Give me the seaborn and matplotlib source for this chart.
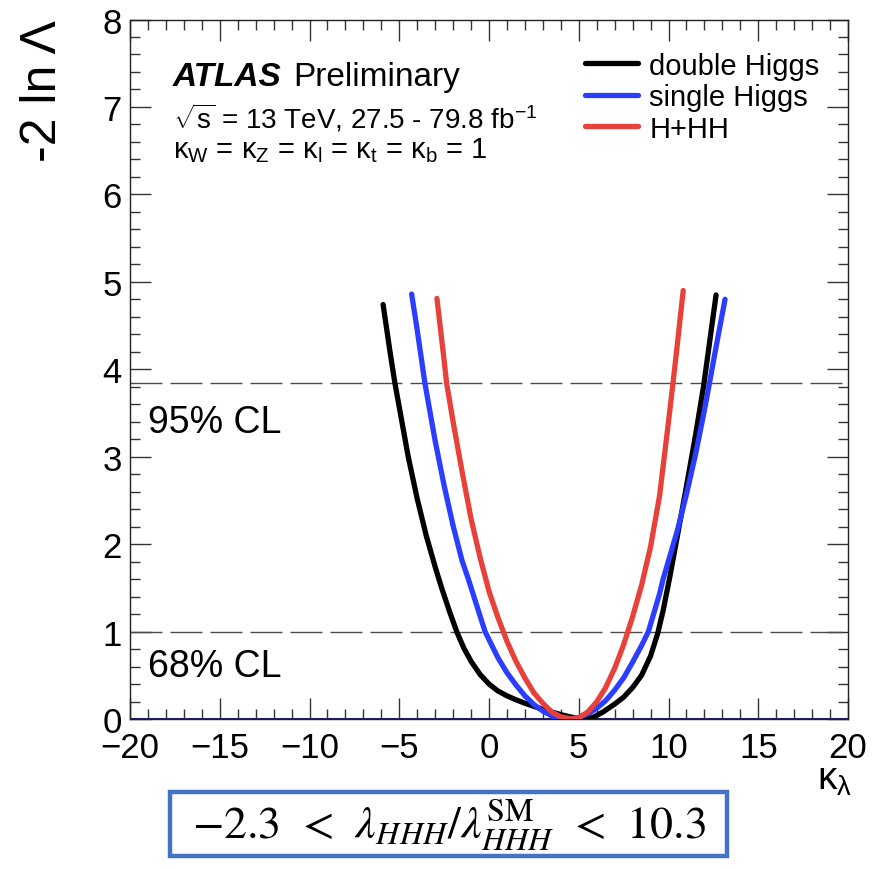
import matplotlib
matplotlib.use("Agg")
import matplotlib.pyplot as plt
from matplotlib.patches import Rectangle
import numpy as np
import pandas as pd
import seaborn as sns


# likelihood scan values
double_x = [-5.9, -5.5, -5.24, -4.5, -4.0, -3.5, -3.0, -2.64, -2.2, -1.78, -1.4, -1.0, -0.5,
            0.0, 0.5, 1.0, 1.5, 2.0, 2.5, 3.0, 3.5, 4.0, 4.5, 5.0, 5.3, 5.8, 6.35, 7.0, 7.5,
            8.0, 8.5, 9.0, 9.4, 9.7, 10.05, 10.5, 11.0, 11.5, 11.95, 12.65]
double_y = [4.74, 4.18, 3.84, 3.00, 2.52, 2.10, 1.74, 1.50, 1.23, 0.99, 0.81, 0.66, 0.51,
            0.40, 0.32, 0.265, 0.22, 0.18, 0.145, 0.11, 0.08, 0.05, 0.025, 0.007, 0.0, 0.02,
            0.08, 0.17, 0.25, 0.36, 0.50, 0.72, 0.98, 1.24, 1.60, 2.10, 2.66, 3.24, 3.80, 4.85]

single_x = [-4.31, -4.0, -3.57, -3.0, -2.5, -2.0, -1.5, -1.15, -0.5, -0.22, 0.5, 1.0, 1.5,
            2.0, 2.5, 3.0, 3.5, 4.0, 4.4, 5.0, 5.5, 6.0, 6.5, 7.0, 7.5, 8.0, 8.5, 8.88, 9.5,
            9.7, 10.5, 11.0, 11.5, 12.0, 12.2, 12.6, 13.15]
single_y = [4.86, 4.45, 3.84, 3.18, 2.67, 2.21, 1.81, 1.60, 1.18, 1.00, 0.70, 0.53, 0.39,
            0.265, 0.166, 0.09, 0.037, 0.007, 0.0, 0.017, 0.058, 0.123, 0.21, 0.33, 0.47,
            0.65, 0.84, 1.00, 1.43, 1.60, 2.16, 2.57, 3.02, 3.53, 3.75, 4.20, 4.80]

comb_x = [-2.9, -2.5, -2.36, -2.0, -1.5, -1.0, -0.5, 0.0, 0.5, 1.0, 1.5, 2.0, 2.5, 3.0, 3.5,
          4.0, 4.6, 5.0, 5.5, 6.0, 6.5, 7.0, 7.5, 8.0, 8.5, 9.0, 9.5, 10.0, 10.25, 10.5, 10.82]
comb_y = [4.81, 4.10, 3.84, 3.40, 2.83, 2.29, 1.85, 1.46, 1.16, 0.89, 0.66, 0.47, 0.30, 0.18,
          0.08, 0.025, 0.0, 0.016, 0.08, 0.196, 0.36, 0.58, 0.85, 1.17, 1.53, 1.97, 2.55, 3.40,
          3.84, 4.30, 4.90]

series_names = ["double Higgs", "single Higgs", "H+HH"]
series_colors = ["#000000", "#2b3dff", "#e8413a"]

cl_levels = [3.84, 1.0]
cl_labels = ["95% CL", "68% CL"]
cl_label_y = [3.28, 0.49]

x_ticks = [-20, -15, -10, -5, 0, 5, 10, 15, 20]
y_ticks = [0, 1, 2, 3, 4, 5, 6, 7, 8]


sns.set_theme(style="ticks")
plt.rcParams["font.family"] = ["Liberation Sans", "DejaVu Sans"]
plt.rcParams["mathtext.fontset"] = "custom"
plt.rcParams["mathtext.rm"] = "Liberation Sans"
plt.rcParams["mathtext.it"] = "Liberation Sans:italic"
plt.rcParams["mathtext.bf"] = "Liberation Sans:bold"
plt.rcParams["axes.unicode_minus"] = True
for key in ["text.color", "axes.labelcolor", "xtick.color", "ytick.color"]:
    plt.rcParams[key] = "black"

frames = []
for name, xs, ys in zip(series_names,
                        [double_x, single_x, comb_x],
                        [double_y, single_y, comb_y]):
    frames.append(pd.DataFrame({"kl": xs, "nll": ys, "fit": name}))
df = pd.concat(frames, ignore_index=True)

fig = plt.figure(figsize=(8.92, 8.70), dpi=100)
ax = fig.add_axes([130 / 892, 1 - 720 / 870, 718 / 892, 699.5 / 870])

ax.axhline(0, color="#1f1f6e", lw=2.2, zorder=1)
for lvl in cl_levels:
    ax.axhline(lvl, color="#4a4a4a", lw=1.0, dashes=(23, 5.8), zorder=1)

sns.lineplot(data=df, x="kl", y="nll", hue="fit", hue_order=series_names,
             palette=series_colors, estimator=None, sort=False, lw=3.8,
             ax=ax, zorder=3)

ax.set_xlim(-20, 20)
ax.set_ylim(0, 8)
ax.set_xticks(x_ticks)
ax.set_yticks(y_ticks)
ax.set_xticks(np.arange(-20, 21, 1), minor=True)
ax.set_yticks(np.arange(0, 8.01, 0.2), minor=True)
ax.tick_params(which="both", direction="in", top=True, right=True, color="#333333", width=1)
ax.tick_params(which="major", length=15, labelsize=25, pad=6)
ax.tick_params(which="minor", length=7.5)
ax.tick_params(axis="x", pad=9)
for s in ax.spines.values():
    s.set_linewidth(1.0)
    s.set_color("#222222")
ax.set_xlabel("")
ax.set_ylabel("")

for lab, yy in zip(cl_labels, cl_label_y):
    ax.text(-19.0, yy, lab, fontsize=27, ha="left", va="baseline")

# ATLAS label
ax.text(0.06, 0.906, "ATLAS", transform=ax.transAxes, fontsize=24,
        fontweight="bold", fontstyle="italic", va="baseline")
ax.text(0.227, 0.906, "Preliminary", transform=ax.transAxes, fontsize=24, va="baseline")
ax.text(0.06, 0.846, r"$\sqrt{\mathregular{s}}$ = 13 TeV, 27.5 - 79.8 fb$^{\mathregular{-1}}$",
        transform=ax.transAxes, fontsize=20, va="baseline")
ax.text(0.06, 0.803,
        "κ$_\\mathregular{W}$ = κ$_\\mathregular{Z}$ = κ$_\\mathregular{l}$ = "
        "κ$_\\mathregular{t}$ = κ$_\\mathregular{b}$ = 1",
        transform=ax.transAxes, fontsize=21, va="baseline")

leg = ax.legend(loc="upper left", bbox_to_anchor=(0.634, 0.954), frameon=False,
                fontsize=21, handlelength=1.8, handletextpad=0.4, labelspacing=0.12,
                borderpad=0, borderaxespad=0)
for line in leg.get_lines():
    line.set_linewidth(3.8)

fig.text(43 / 892, 1 - 20 / 870, "-2 ln Λ", rotation=90, fontsize=36,
         ha="center", va="top")
fig.text(852 / 892, 1 - 790 / 870, "κ$_\\mathregular{λ}$", fontsize=28,
         ha="right", va="baseline")

fig.patches.append(Rectangle((170 / 892, 1 - 857 / 870), 557 / 892, 64 / 870,
                             transform=fig.transFigure, fill=False,
                             edgecolor="#4472c4", lw=3.2))
fig.text(449 / 892, 1 - 826 / 870,
         r"$-2.3\;\,<\;\,\lambda_{HHH}/\lambda^{\rm SM}_{HHH}\;\,<\;\,10.3$",
         math_fontfamily="stix", fontsize=33, ha="center", va="center")

fig.savefig("out.png", dpi=100)
